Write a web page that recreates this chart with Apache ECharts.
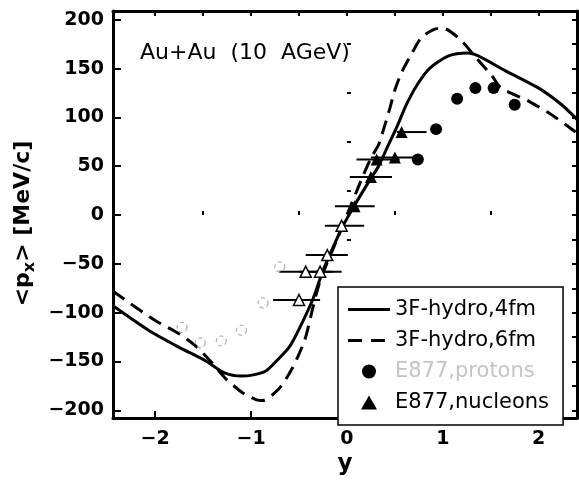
<!DOCTYPE html>
<html>
<head>
<meta charset="utf-8">
<script src="https://cdn.jsdelivr.net/npm/echarts@6/dist/echarts.min.js"></script>
<style>
	html, body { margin: 0; padding: 0; background: #fff; }
	#chart { width: 579px; height: 481px; }
</style>
</head>
<body>
<div id="chart"></div>
<script>
// 3F-hydro curves
const hydro4X = [-2.44, -2.07, -1.76, -1.48, -1.27, -1.1, -0.99, -0.85, -0.74, -0.6, -0.49, -0.35, -0.25, -0.14, -0.04, 0.08, 0.24, 0.33, 0.41, 0.52, 0.62, 0.73, 0.86, 1.06, 1.26, 1.37, 1.65, 2.0, 2.24, 2.40];
const hydro4Y = [-93, -118, -135, -149, -162, -165, -164, -160, -150, -135, -115, -85, -57, -32, -11, 10, 36, 50, 67, 90, 113, 133, 150, 163, 166, 163, 148, 130, 113, 98];

const hydro6X = [-2.44, -2.0, -1.76, -1.58, -1.41, -1.27, -1.09, -0.95, -0.88, -0.71, -0.57, -0.44, -0.37, -0.32, -0.26, -0.15, -0.05, 0.05, 0.15, 0.25, 0.33, 0.38, 0.45, 0.5, 0.57, 0.68, 0.78, 0.95, 1.01, 1.19, 1.33, 1.51, 1.61, 1.89, 2.1, 2.29, 2.40];
const hydro6Y = [-78, -108, -121, -134, -151, -167, -182, -189, -190, -178, -157, -128, -101, -81, -62, -36, -12, 12, 36, 58, 72, 87, 110, 128, 146, 166, 182, 191, 191, 179, 163, 143, 130, 117, 105, 92, 84];

// E877 protons (filled) and reflected (open)
const protonX = [0.74, 0.93, 1.15, 1.34, 1.53, 1.75];
const protonY = [57, 88, 119, 130, 130, 113];
const protonReflX = [-0.70, -0.875, -1.10, -1.31, -1.53, -1.72];
const protonReflY = [-53, -90, -118, -129, -131, -115];

// E877 nucleons (filled) and reflected (open), with horizontal bars
const nucleonX = [0.08, 0.25, 0.31, 0.50, 0.57];
const nucleonY = [9, 39, 57, 59, 85];
const nucleonLo = [-0.125, 0.03, 0.10, 0.25, 0.52];
const nucleonHi = [0.29, 0.47, 0.55, 0.76, 0.83];
const nucleonReflX = [-0.055, -0.205, -0.28, -0.43, -0.50];
const nucleonReflY = [-11, -41, -58, -58, -87];
const nucleonReflLo = [-0.23, -0.43, -0.50, -0.71, -0.77];
const nucleonReflHi = [0.18, 0.01, -0.055, -0.15, -0.28];

const xMajor = [-2, -1, 0, 1, 2];
const xMinor = [-1.5, -0.5, 0.5, 1.5];
const xAll = [-2, -1.5, -1, -0.5, 0, 0.5, 1, 1.5, 2];
const yMajor = [-200, -150, -100, -50, 0, 50, 100, 150, 200];
const yMinor = [-175, -125, -75, -25, 25, 75, 125, 175];
const yAll = [-200, -175, -150, -125, -100, -75, -50, -25, 0, 25, 50, 75, 100, 125, 150, 175, 200];

const X_MIN = -2.44, X_MAX = 2.40;
const Y_MIN = -208, Y_MAX = 209;

const font = 'DejaVu Sans';
const zip = (a, b) => a.map((v, i) => [v, b[i]]);
const minus = v => String(v).replace('-', '\u2212');

// legend icons: plain line, dashed line, triangle
const iconSolid = 'path://M0,0H42V3H0Z';
const iconDashed = 'path://M0,0H14V3H0Z M23,0H37V3H23Z M42,0H42.01V3H42Z';
const iconTriangle = 'path://M8,0L16,14H0Z';

function axisBase(min, max) {
	return {
		type: 'value', min: min, max: max,
		splitLine: {show: false},
		axisLine: {show: false},
		axisLabel: {show: false},
	};
}

function errBars(xs, ys, lo, hi) {
	return xs.map((x, i) => [x, ys[i], lo[i], hi[i]]);
}

function renderBar(params, api) {
	const a = api.coord([api.value(2), api.value(1)]);
	const b = api.coord([api.value(3), api.value(1)]);
	return {
		type: 'line',
		shape: {x1: a[0], y1: a[1], x2: b[0], y2: b[1]},
		style: {stroke: '#000', lineWidth: 2}
	};
}

const chart = echarts.init(document.getElementById('chart'), null, {renderer: 'canvas'});

chart.setOption({
	animation: false,
	backgroundColor: '#fff',
	textStyle: {fontFamily: font},
	title: {
		text: 'Au+Au  (10  AGeV)',
		left: 135, top: 37,
		textStyle: {fontFamily: font, fontSize: 22, fontWeight: 'normal', color: '#000'}
	},
	grid: {left: 113, right: 2, top: 11, bottom: 50},
	legend: {
		orient: 'vertical',
		left: 338, top: 287,
		padding: [12, 14, 12, 10],
		itemWidth: 42, itemHeight: 14, itemGap: 10,
		backgroundColor: '#fff',
		borderColor: '#000', borderWidth: 1.5,
		selectedMode: false,
		textStyle: {fontFamily: font, fontSize: 21, lineHeight: 20, color: '#000'},
		data: [
			{name: '3F-hydro,4fm', icon: iconSolid},
			{name: '3F-hydro,6fm', icon: iconDashed},
			{name: 'E877,protons', icon: 'circle', textStyle: {color: '#c4c4c4'}},
			{name: 'E877,nucleons', icon: iconTriangle}
		]
	},
	xAxis: [
		Object.assign(axisBase(X_MIN, X_MAX), {
			position: 'bottom',
			name: 'y', nameLocation: 'middle', nameGap: 30,
			nameTextStyle: {fontFamily: font, fontSize: 23, fontWeight: 'bold', color: '#000'},
			axisLine: {show: true, onZero: false, lineStyle: {color: '#000', width: 3}},
			axisTick: {inside: true, length: 7, customValues: xMajor, lineStyle: {color: '#000', width: 2}},
			axisLabel: {show: true, customValues: xMajor, margin: 11, formatter: minus,
				fontFamily: font, fontSize: 19, fontWeight: 'bold', color: '#000'}
		}),
		Object.assign(axisBase(X_MIN, X_MAX), {
			position: 'bottom',
			axisTick: {inside: true, length: 4, customValues: xMinor, lineStyle: {color: '#000', width: 2}}
		}),
		Object.assign(axisBase(X_MIN, X_MAX), {
			position: 'top',
			axisLine: {show: true, onZero: false, lineStyle: {color: '#000', width: 3}},
			axisTick: {inside: true, length: 5, customValues: xAll, lineStyle: {color: '#000', width: 2}}
		})
	],
	yAxis: [
		Object.assign(axisBase(Y_MIN, Y_MAX), {
			position: 'left',
			name: '<p{s|x}> [MeV/c]', nameLocation: 'middle', nameGap: 70, nameRotate: 90,
			nameTextStyle: {fontFamily: font, fontSize: 22, fontWeight: 'bold', color: '#000', lineHeight: 28,
				padding: [0, 18, 0, 0],
				rich: {s: {fontFamily: font, fontSize: 16, fontWeight: 'bold', color: '#000', verticalAlign: 'bottom', lineHeight: 14}}},
			axisLine: {show: true, onZero: false, lineStyle: {color: '#000', width: 3}},
			axisTick: {inside: true, length: 8, customValues: yMajor, lineStyle: {color: '#000', width: 2}},
			axisLabel: {show: true, customValues: yMajor, margin: 9, formatter: minus,
				fontFamily: font, fontSize: 19, fontWeight: 'bold', color: '#000'}
		}),
		Object.assign(axisBase(Y_MIN, Y_MAX), {
			position: 'left',
			axisTick: {inside: true, length: 4, customValues: yMinor, lineStyle: {color: '#000', width: 2}}
		}),
		Object.assign(axisBase(Y_MIN, Y_MAX), {
			position: 'right',
			axisLine: {show: true, onZero: false, lineStyle: {color: '#000', width: 3}},
			axisTick: {inside: true, length: 5, customValues: yAll, lineStyle: {color: '#000', width: 2}}
		})
	],
	series: [
		{
			name: 'nucleon bars', type: 'custom',
			renderItem: renderBar, encode: {x: [0, 2, 3], y: 1},
			data: errBars(nucleonX, nucleonY, nucleonLo, nucleonHi), z: 2
		},
		{
			name: 'reflected nucleon bars', type: 'custom',
			renderItem: renderBar, encode: {x: [0, 2, 3], y: 1},
			data: errBars(nucleonReflX, nucleonReflY, nucleonReflLo, nucleonReflHi), z: 2
		},
		{
			name: '3F-hydro,4fm', type: 'line', symbol: 'none', smooth: 0.25,
			color: '#000',
			lineStyle: {color: '#000', width: 3},
			data: zip(hydro4X, hydro4Y), z: 3
		},
		{
			name: '3F-hydro,6fm', type: 'line', symbol: 'none', smooth: 0.25,
			color: '#000',
			lineStyle: {color: '#000', width: 3, type: [14, 8]},
			data: zip(hydro6X, hydro6Y), z: 3
		},
		{
			name: 'E877,protons', type: 'scatter', symbol: 'circle', symbolSize: 12,
			itemStyle: {color: '#000', opacity: 1},
			data: zip(protonX, protonY), z: 4
		},
		{
			name: 'E877,protons (reflected)', type: 'scatter', symbol: 'circle', symbolSize: 10,
			itemStyle: {color: 'rgba(255,255,255,0)', borderColor: '#b0b0b0', borderWidth: 1.2, borderType: [4, 3], opacity: 1},
			data: zip(protonReflX, protonReflY), z: 4
		},
		{
			name: 'E877,nucleons', type: 'scatter', symbol: 'triangle', symbolSize: 12,
			itemStyle: {color: '#000', opacity: 1},
			data: zip(nucleonX, nucleonY), z: 4
		},
		{
			name: 'E877,nucleons (reflected)', type: 'scatter', symbol: 'triangle', symbolSize: 11,
			itemStyle: {color: '#fff', borderColor: '#000', borderWidth: 1.5, opacity: 1},
			data: zip(nucleonReflX, nucleonReflY), z: 4
		}
	]
});
</script>
</body>
</html>
